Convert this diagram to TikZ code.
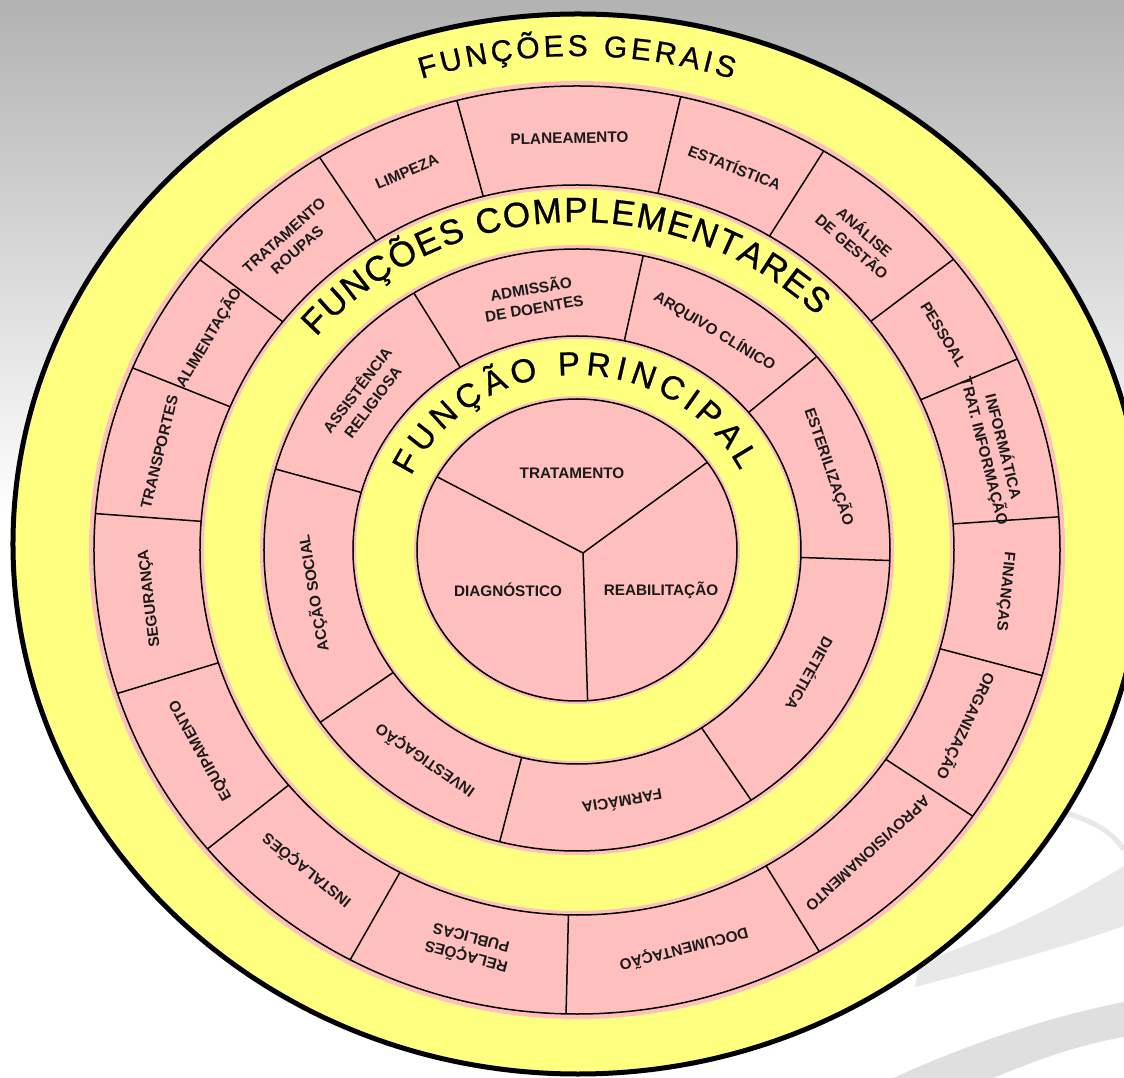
\documentclass[tikz,border=0pt]{standalone}
\usepackage{fontspec}
\setmainfont{Liberation Sans}
\newfontfamily\titleface{Liberation Sans}[FakeBold=0.8]
\usetikzlibrary{decorations.text}

\definecolor{ringyellow}{HTML}{FFFF80}
\definecolor{ringpink}{HTML}{FFBFBF}
\definecolor{labelink}{HTML}{1A1A1A}
\definecolor{bgtop}{HTML}{B2B2B2}
\definecolor{swoosh}{HTML}{E8E8E8}

\newcommand\titlefontA{\titleface\fontsize{30}{32}\selectfont}
\newcommand\titlefontB{\titleface\fontsize{35}{37}\selectfont}
\newcommand\titlefontC{\titleface\fontsize{33}{35}\selectfont}

\tikzset{
  seglabel/.style={font=\bfseries\fontsize{15.3}{19.5}\selectfont, text=labelink,
                   align=center, inner sep=0pt},
  ringline/.style={draw=black, line width=1.5pt},
  divider/.style={draw=black, line width=1.5pt},
}

\begin{document}
\begin{tikzpicture}[x=1pt, y=1pt]
\useasboundingbox (-577,-528) rectangle (547,550);

% backdrop: grey fade at the top, two pale swooshes bottom right
\fill[white] (-577,-528) rectangle (547,550);
\shade[top color=bgtop, bottom color=white] (-577,30) rectangle (547,550);
\draw[swoosh, line width=5pt] (481,-261) .. controls (518,-270) and (538,-285) .. (547,-300);
\fill[swoosh] (547,-316) .. controls (483,-355) and (423,-385) .. (343,-412)
   -- (338,-437) .. controls (423,-415) and (493,-395) .. (547,-376) -- cycle;
\fill[swoosh!96!black] (316,-528) .. controls (400,-490) and (480,-465) .. (547,-452)
   -- (547,-487) .. controls (500,-495) and (460,-510) .. (416,-528) -- cycle;

% outer disc
\filldraw[fill=ringyellow, draw=black, line width=5pt] (1,6) ellipse [x radius=565, y radius=530];

% outer pink ring (general functions)
\fill[ringpink, even odd rule] (0,0) ellipse [x radius=488, y radius=469]
                               (0,0) ellipse [x radius=373, y radius=361];
\draw[ringline] (0,0) ellipse [x radius=483, y radius=464];
\draw[ringline] (0,0) ellipse [x radius=377, y radius=365];
\foreach \ang in {104.4, 77.6, 59.3, 38.8, 24.3, 4.1, -15.7, -35, -59.9, -91.3,
                  -118, -139.9, -162, 175.5, 156.9, 141.3, 122.2}
  \draw[divider] (\ang:377 and 365) -- (\ang:483 and 464);

% middle pink ring (complementary functions)
\fill[ringpink, even odd rule] (0,0) ellipse [x radius=317, y radius=305]
                               (0,0) ellipse [x radius=221, y radius=211];
\draw[ringline] (0,0) ellipse [x radius=313, y radius=301];
\draw[ringline] (0,0) ellipse [x radius=224, y radius=214];
\foreach \ang in {121.4, 77.8, 40, -2, -56.2, -104.3, -145.1, 164.4}
  \draw[divider] (\ang:224 and 214) -- (\ang:313 and 301);

% inner disc (main function)
\fill[ringpink] (0,0) ellipse [x radius=163, y radius=154];
\draw[ringline] (0,0) ellipse [x radius=160, y radius=151];
\coordinate (hub) at (6,-3);
\coordinate (spokeA) at (151:160 and 151);
\coordinate (spokeB) at (35.5:160 and 151);
\coordinate (spokeC) at (-86.2:160 and 151);
\draw[divider] (spokeA) -- (hub) -- (spokeB);
\draw[divider] (hub) -- (spokeC);

% ring titles
\path[decorate, decoration={text along path, text={|\titlefontA|FUNÇÕES GERAIS},
      text align={fit to path}}]
  (107.5:517 and 494) arc[start angle=107.5, end angle=72.5, x radius=517, y radius=494];
\path[decorate, decoration={text along path, text={|\titlefontB|FUNÇÕES COMPLEMENTARES},
      text align={fit to path}}]
  (139.5:343 and 328) arc[start angle=139.5, end angle=45.5, x radius=343, y radius=328];
\path[decorate, decoration={text along path, text={|\titlefontC|FUNÇÃO PRINCIPAL},
      text align={fit to path}}]
  (155:183 and 175) arc[start angle=155, end angle=27, x radius=183, y radius=175];

% labels of the general functions
\foreach \ang/\txt [count=\i] in {
    91/PLANEAMENTO, 68.45/ESTATÍSTICA, 49.05/{ANÁLISE\\DE GESTÃO}, 31.55/PESSOAL,
    14.2/{INFORMÁTICA\\TRAT. INFORMAÇÃO}, -5.8/FINANÇAS, -25.35/ORGANIZAÇÃO,
    -47.45/APROVISIONAMENTO, -75.6/DOCUMENTAÇÃO, -104.65/{RELAÇÕES\\PUBLICAS},
    -128.95/INSTALAÇÕES, -150.95/EQUIPAMENTO, -173.25/SEGURANÇA, 166.2/TRANSPORTES,
    148.95/ALIMENTAÇÃO, 131.75/{TRATAMENTO\\ROUPAS}, 113.3/LIMPEZA}
  \node[seglabel, rotate=\ang-90] (general\i) at (\ang:430 and 412) {\txt};

% labels of the complementary functions
\foreach \ang/\txt [count=\i] in {
    99.6/{ADMISSÃO\\DE DOENTES}, 58.9/{ARQUIVO CLÍNICO}, 19/ESTERILIZAÇÃO,
    -29.1/DIETÉTICA, -80.25/FARMÁCIA, -124.7/INVESTIGAÇÃO, -170.35/{ACÇÃO SOCIAL},
    142.9/{ASSISTÊNCIA\\RELIGIOSA}}
  \node[seglabel, rotate=\ang-90] (compl\i) at (\ang:267 and 256) {\txt};

% labels of the main function
\node[seglabel] (tratamento) at (-5,77) {TRATAMENTO};
\node[seglabel] (diagnostico) at (-69,-40) {DIAGNÓSTICO};
\node[seglabel] (reabilitacao) at (84,-40) {REABILITAÇÃO};
\end{tikzpicture}
\end{document}
